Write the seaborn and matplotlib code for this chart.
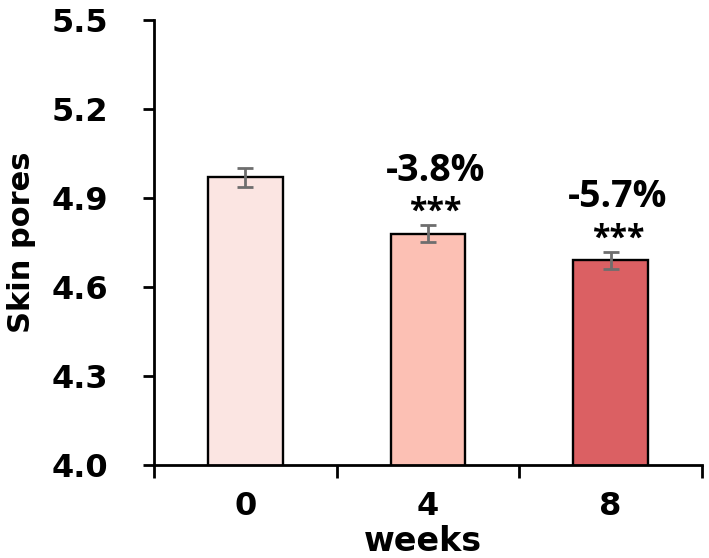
import matplotlib
matplotlib.use("Agg")
import matplotlib.pyplot as plt
import numpy as np
import seaborn as sns
from matplotlib.ticker import FixedLocator

# Données
weeks = ["0", "4", "8"]
skin_pores = [4.97, 4.78, 4.69]
errors = [0.032, 0.029, 0.028]
changes = ["", "-3.8%", "-5.7%"]
stars = ["", "***", "***"]
colors = ["#FBE5E2", "#FCC0B4", "#DB6063"]
yticks = [4.0, 4.3, 4.6, 4.9, 5.2, 5.5]

sns.set_style("ticks")
plt.rcParams["font.family"] = ["DejaVu Sans"]
plt.rcParams["font.weight"] = "bold"
plt.rcParams["text.color"] = "black"
plt.rcParams["axes.labelcolor"] = "black"

fig = plt.figure(figsize=(7.09, 5.58), dpi=100)
ax = fig.add_axes([0.2172, 0.1667, 0.7728, 0.7975])

sns.barplot(x=weeks, y=skin_pores, hue=weeks, palette=colors, width=0.41,
            saturation=1, edgecolor="black", linewidth=1.7, legend=False,
            errorbar=None, ax=ax)

ax.errorbar(range(len(weeks)), skin_pores, yerr=errors, fmt="none",
            ecolor="#6E6E6E", elinewidth=2, capsize=5.5, capthick=2, zorder=5)

# Annotations au-dessus des barres
for i, (v, c, s) in enumerate(zip(skin_pores, changes, stars)):
    if c:
        ax.text(i + 0.04, v + 0.212, c, ha="center", va="center", color="black",
                fontsize=27, fontweight="bold", family=["Open Sans", "DejaVu Sans"])
        ax.text(i + 0.04, v + 0.072, s, ha="center", va="center", color="black",
                fontsize=23, fontweight="bold", family=["Open Sans", "DejaVu Sans"])

ax.set_ylim(4.0, 5.5)
ax.set_xlim(-0.5, 2.5)
ax.set_yticks(yticks)
ax.set_yticklabels([f"{t:.1f}" for t in yticks])
ax.xaxis.set_minor_locator(FixedLocator([-0.5, 0.5, 1.5, 2.5]))

for side in ["top", "right"]:
    ax.spines[side].set_visible(False)
for side in ["left", "bottom"]:
    ax.spines[side].set_linewidth(2.0)
    ax.spines[side].set_color("black")

ax.tick_params(axis="y", direction="out", length=8, width=2, pad=25, labelsize=23, colors="black")
ax.tick_params(axis="x", which="major", length=0, pad=19, labelsize=23, colors="black")
ax.tick_params(axis="x", which="minor", direction="out", length=9.5, width=2, colors="black")
for lab in ax.get_xticklabels() + ax.get_yticklabels():
    lab.set_fontweight("bold")

ax.set_xlabel("weeks", fontsize=24, fontweight="bold")
ax.xaxis.set_label_coords(0.49, -0.135)
ax.set_ylabel("Skin pores", fontsize=22, fontweight="bold")
ax.yaxis.set_label_coords(-0.215, 0.5)

fig.savefig("out.png", dpi=100)
